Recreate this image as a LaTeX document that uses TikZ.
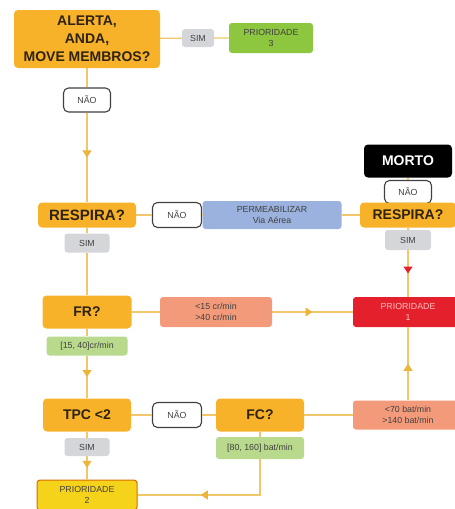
\documentclass[tikz,border=0pt]{standalone}
\usepackage{fontspec}
\setmainfont{Liberation Sans}
\usetikzlibrary{arrows.meta,decorations.markings}

\definecolor{triorange}{HTML}{F7B22A}
\definecolor{trigray}{HTML}{D4D6D9}
\definecolor{trigreen}{HTML}{8DC63F}
\definecolor{trilightgreen}{HTML}{B9D98C}
\definecolor{triblue}{HTML}{9AB2DD}
\definecolor{trisalmon}{HTML}{F39A7B}
\definecolor{trired}{HTML}{E3202B}
\definecolor{triyellow}{HTML}{F6D31B}
\definecolor{triline}{HTML}{F2C66B}
\definecolor{triarrow}{HTML}{EDB43A}
\definecolor{tritext}{HTML}{2E2210}

\tikzset{
  question/.style={fill=triorange, rounded corners=4pt, align=center, text=tritext,
    font=\fontsize{14}{18}\selectfont\bfseries, inner sep=0pt},
  tag/.style={rounded corners=3pt, align=center, text=black!75,
    font=\fontsize{8.8}{10.5}\selectfont, inner sep=0pt},
  simtag/.style={tag, fill=trigray},
  naotag/.style={tag, fill=white, draw=black!75, line width=1.1pt, rounded corners=5pt},
  link/.style={draw=triline, line width=1.3pt},
  midarrow/.style={postaction={decorate, decoration={markings,
    mark=at position #1 with {\arrow[triarrow]{Triangle[width=9pt,length=7pt]}}}}},
  midarrow/.default=0.5,
  redarrow/.style={postaction={decorate, decoration={markings,
    mark=at position 0.5 with {\arrow[trired]{Triangle[width=9pt,length=7pt]}}}}},
}

\begin{document}
\begin{tikzpicture}[x=1pt, y=-1pt]
  \useasboundingbox (0,0) rectangle (455,509);

  % first column
  \node[question, minimum width=146pt, minimum height=58pt] (alerta) at (87,39)
    {ALERTA,\\ANDA,\\MOVE MEMBROS?};
  \node[simtag, minimum width=32pt, minimum height=18pt] (sim1) at (198,38) {SIM};
  \node[tag, fill=trigreen, minimum width=84pt, minimum height=30pt] (p3) at (271,38)
    {PRIORIDADE\\3};
  \node[naotag, minimum width=47pt, minimum height=24pt] (nao1) at (87,100) {NÃO};

  \node[question, font=\fontsize{15}{18}\selectfont\bfseries,
    minimum width=98pt, minimum height=25pt] (resp1) at (87,215) {RESPIRA?};
  \node[naotag, minimum width=49pt, minimum height=25pt] (nao2) at (177,215) {NÃO};
  \node[tag, fill=triblue, minimum width=139pt, minimum height=28pt] (perm) at (272,215)
    {PERMEABILIZAR\\Via Aérea};
  \node[simtag, minimum width=45pt, minimum height=19pt] (sim2) at (87,243) {SIM};

  % right column
  \node[fill=black, text=white, rounded corners=4pt, inner sep=0pt,
    font=\fontsize{14}{17}\selectfont\bfseries,
    minimum width=88pt, minimum height=33pt] (morto) at (408,161) {MORTO};
  \node[naotag, minimum width=47pt, minimum height=23pt] (nao3) at (408,192) {NÃO};
  \node[question, minimum width=96pt, minimum height=25pt] (resp2) at (408,215) {RESPIRA?};
  \node[simtag, minimum width=46pt, minimum height=20pt] (sim3) at (408,240) {SIM};

  % middle rows
  \node[question, minimum width=89pt, minimum height=33pt] (fr) at (87,312) {FR?};
  \node[tag, fill=trisalmon, minimum width=112pt, minimum height=30pt] (fr1) at (216,312)
    {<15 cr/min\\>40 cr/min};
  \node[tag, fill=trired, text=red!25, minimum width=110pt, minimum height=30pt] (p1) at (408,312)
    {PRIORIDADE\\1};
  \node[tag, fill=trilightgreen, minimum width=81pt, minimum height=19pt] (fr2) at (87,346)
    {[15, 40]cr/min};

  \node[question, minimum width=88pt, minimum height=33pt] (tpc) at (87,415) {TPC <2};
  \node[naotag, minimum width=49pt, minimum height=25pt] (nao4) at (177,415) {NÃO};
  \node[question, minimum width=88pt, minimum height=33pt] (fc) at (260,415) {FC?};
  \node[tag, fill=trisalmon, minimum width=110pt, minimum height=29pt] (fc1) at (408,415)
    {<70 bat/min\\>140 bat/min};
  \node[simtag, minimum width=45pt, minimum height=18pt] (sim4) at (87,447) {SIM};
  \node[tag, fill=trilightgreen, minimum width=88pt, minimum height=22pt] (fc2) at (260,448)
    {[80, 160] bat/min};
  \node[tag, fill=triyellow, draw=orange!85!black, line width=1pt,
    minimum width=100pt, minimum height=30pt] (p2) at (87,495) {PRIORIDADE\\2};

  % connectors
  \path[link] (alerta) -- (sim1) -- (p3);
  \path[link] (alerta) -- (nao1);
  \path[link, midarrow] (nao1) -- (resp1);
  \path[link] (resp1) -- (nao2) -- (perm) -- (resp2);
  \path[link] (resp2) -- (nao3) -- (morto);
  \path[link] (resp2) -- (sim3);
  \path[link, redarrow] (sim3) -- (p1);
  \path[link] (resp1) -- (sim2) -- (fr);
  \path[link] (fr) -- (fr1);
  \path[link, midarrow] (fr1) -- (p1);
  \path[link] (fr) -- (fr2);
  \path[link, midarrow] (fr2) -- (tpc);
  \path[link] (tpc) -- (nao4) -- (fc) -- (fc1);
  \path[link, midarrow] (fc1) -- (p1);
  \path[link] (tpc) -- (sim4);
  \path[link, midarrow] (sim4) -- (p2);
  \path[link] (fc) -- (fc2);
  \path[link, midarrow=0.6] (fc2) |- (p2);
\end{tikzpicture}
\end{document}
